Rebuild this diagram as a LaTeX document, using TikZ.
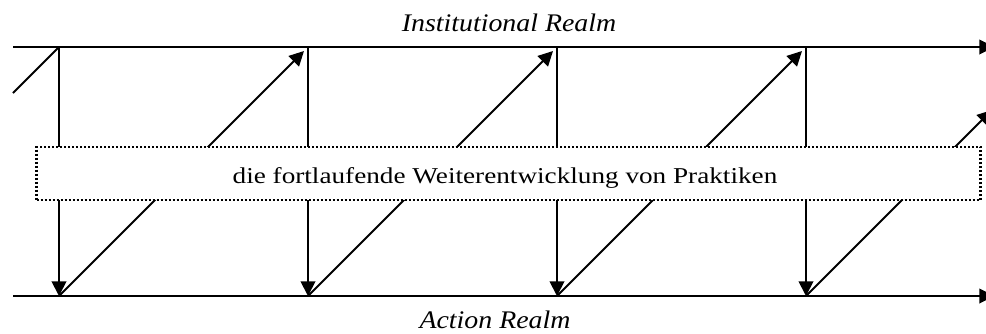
\documentclass[tikz,border=0pt]{standalone}
\usepackage{fontspec}
\setmainfont{Liberation Serif}
\newfontfamily\boxfont[FakeStretch=1.2]{Liberation Serif}
\newfontfamily\realmfont[FakeStretch=1.1]{Liberation Serif}
\usetikzlibrary{arrows.meta}
\begin{document}
\begin{tikzpicture}[x=0.75pt,y=-0.75pt,
  flow/.style={line width=1.4pt,-{Triangle[length=11pt,width=11pt]}},
  plain/.style={line width=1.4pt},
  realm/.style={font=\realmfont\itshape\fontsize{19}{22}\selectfont,inner sep=0pt,anchor=base},
  practice/.style={draw,fill=white,line width=1.8pt,dash pattern=on 1.5pt off 1.5pt,
    minimum width=708pt,minimum height=40pt,inner sep=0pt},
  practicetext/.style={font=\boxfont\fontsize{17}{20}\selectfont,inner sep=0pt,anchor=base}]
\clip (0,0) rectangle (986,333);
\useasboundingbox (0,0) rectangle (986,333);
% points
\coordinate (tl) at (13,47);  \coordinate (tr) at (994,47);
\coordinate (bl) at (13,296); \coordinate (br) at (994,296);
\foreach \i/\x in {1/59,2/308,3/557,4/806}{
  \coordinate (t\i) at (\x,47);
  \coordinate (b\i) at (\x,296);
}
\coordinate (d1) at (304,51);
\coordinate (d2) at (553,51);
\coordinate (d3) at (802,51);
\coordinate (d4) at (992,110);
\coordinate (s0) at (13,93);
% realm lines
\draw[flow] (tl) -- (tr);
\draw[flow] (bl) -- (br);
% vertical arrows
\foreach \i in {1,2,3,4}{ \draw[flow] (t\i) -- (b\i); }
% diagonals
\draw[plain] (s0) -- (t1);
\draw[flow] (b1) -- (d1);
\draw[flow] (b2) -- (d2);
\draw[flow] (b3) -- (d3);
\draw[flow] (b4) -- (d4);
% box
\node[practice] (box) at (508.5,173.5) {};
\node[practicetext] (boxtext) at (505,183) {die fortlaufende Weiterentwicklung von Praktiken};
% labels
\node[realm] (inst) at (509,31) {Institutional Realm};
\node[realm] (act) at (495,328) {Action Realm};
\end{tikzpicture}
\end{document}
